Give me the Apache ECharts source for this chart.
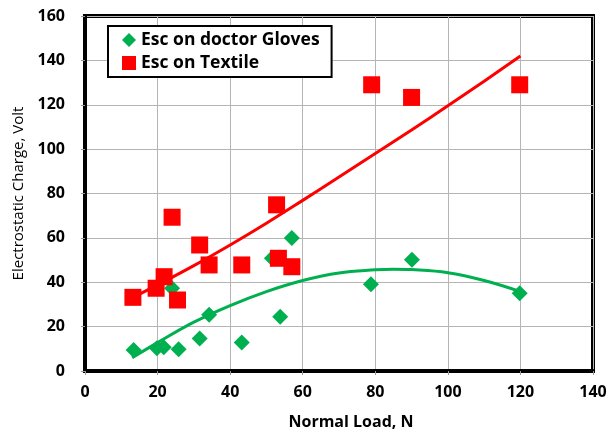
<!DOCTYPE html>
<html>
<head>
<meta charset="utf-8">
<script src="https://cdn.jsdelivr.net/npm/echarts@6/dist/echarts.min.js"></script>
<style>
html,body{margin:0;padding:0;background:#fff;}
#chart{width:609px;height:432px;}
</style>
</head>
<body>
<div id="chart"></div>
<script>
// Data
var glovesX = [13.4, 19.8, 21.7, 24, 25.8, 31.6, 34.2, 43.2, 51.5, 53.8, 57, 78.8, 90.1, 119.8];
var glovesY = [9.5, 10.2, 10.7, 37.3, 9.8, 14.7, 25.3, 12.8, 50.8, 24.5, 59.9, 39.1, 50.1, 35];
var textileX = [13.2, 19.6, 21.8, 24, 25.5, 31.6, 34.2, 43.2, 52.8, 53.3, 57, 79, 90, 119.8];
var textileY = [33.2, 37.3, 42.5, 69.3, 32, 56.8, 47.8, 47.8, 74.9, 50.8, 47, 129, 123.3, 129];
// trend lines, points
var textileTrendX = [13, 20, 30, 40, 50, 60, 70, 80, 90, 100, 110, 120];
var textileTrendY = [33, 38.8, 47.5, 56.8, 66.6, 76.9, 87.4, 98, 108.6, 119.5, 130.6, 142];
var glovesTrendX = [13, 20, 30, 40, 50, 60, 70, 80, 85, 90, 100, 110, 120];
var glovesTrendY = [6, 12.8, 22, 29.5, 35.8, 40.8, 44.2, 45.6, 45.9, 45.7, 44.3, 40.8, 35.8];
var xTicks = [0, 20, 40, 60, 80, 100, 120, 140];
var yTicks = [0, 20, 40, 60, 80, 100, 120, 140, 160];

function zip(a, b) { return a.map(function (v, i) { return [v, b[i]]; }); }

var GREEN = '#00b050', RED = '#ff0000';
var FONT = '"Open Sans"';

var chart = echarts.init(document.getElementById('chart'), null, {renderer: 'canvas'});
chart.setOption({
  animation: false,
  backgroundColor: '#fff',
  grid: {left: 85, right: 16, top: 16, bottom: 61, containLabel: false, outerBoundsMode: 'none',
    show: true, borderColor: '#000', borderWidth: 4, backgroundColor: 'transparent'},
  legend: {
    left: 108, top: 26, orient: 'vertical',
    backgroundColor: '#fff',
    borderColor: '#000', borderWidth: 2,
    padding: [5, 12, 5, 14],
    itemGap: 5, itemWidth: 14, itemHeight: 14,
    textStyle: {fontFamily: FONT, fontWeight: 'bold', fontSize: 17.5, color: '#000'},
    data: [
      {name: 'Esc on doctor Gloves', icon: 'diamond'},
      {name: 'Esc on Textile', icon: 'rect'}
    ]
  },
  xAxis: {
    type: 'value', min: xTicks[0], max: xTicks[xTicks.length - 1], interval: 20,
    name: 'Normal Load, N', nameLocation: 'middle', nameGap: 43,
    nameTextStyle: {fontFamily: FONT, fontWeight: 'bold', fontSize: 16, color: '#000', padding: [0, 0, 0, 24]},
    axisLine: {show: true, lineStyle: {color: '#000', width: 4}},
    axisTick: {show: true, length: 4, lineStyle: {color: '#999'}},
    axisLabel: {margin: 13, fontFamily: FONT, fontWeight: 'bold', fontSize: 16, color: '#000'},
    splitLine: {show: true, lineStyle: {color: '#b5b5b5', width: 1}}
  },
  yAxis: {
    type: 'value', min: yTicks[0], max: yTicks[yTicks.length - 1], interval: 20,
    name: 'Electrostatic Charge, Volt', nameLocation: 'middle', nameGap: 58, nameRotate: 90,
    nameTextStyle: {fontFamily: FONT, fontSize: 15, color: '#000'},
    axisLine: {show: true, lineStyle: {color: '#000', width: 4}},
    axisTick: {show: true, length: 4, lineStyle: {color: '#999'}},
    axisLabel: {margin: 20, fontFamily: FONT, fontWeight: 'bold', fontSize: 16, color: '#000'},
    splitLine: {show: true, lineStyle: {color: '#b5b5b5', width: 1}}
  },
  series: [
    {
      name: 'Esc on doctor Gloves', type: 'scatter', symbol: 'diamond', symbolSize: 16,
      itemStyle: {color: GREEN, opacity: 1}, data: zip(glovesX, glovesY), z: 3
    },
    {
      name: 'Esc on Textile', type: 'scatter', symbol: 'rect', symbolSize: 17,
      itemStyle: {color: RED, opacity: 1}, data: zip(textileX, textileY), z: 4
    },
    {
      name: 'glovesTrend', type: 'line', smooth: 0.4, showSymbol: false, symbol: 'none',
      lineStyle: {color: GREEN, width: 3}, data: zip(glovesTrendX, glovesTrendY), z: 5
    },
    {
      name: 'textileTrend', type: 'line', smooth: 0.4, showSymbol: false, symbol: 'none',
      lineStyle: {color: RED, width: 3}, data: zip(textileTrendX, textileTrendY), z: 5
    }
  ]
});
</script>
</body>
</html>
